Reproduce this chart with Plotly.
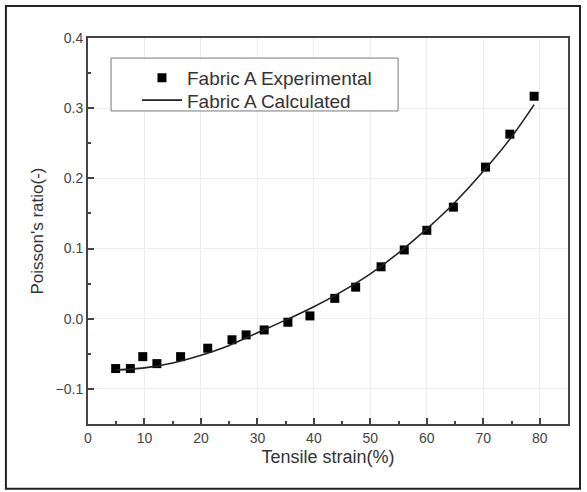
import plotly.graph_objects as go

exp_strain = [4.9, 7.5, 9.7, 12.2, 16.4, 21.2, 25.5, 28.0, 31.2, 35.4, 39.3,
              43.7, 47.4, 51.9, 56.0, 60.0, 64.7, 70.4, 74.7, 79.0]
exp_ratio = [-0.071, -0.071, -0.054, -0.064, -0.054, -0.042, -0.030, -0.023,
             -0.016, -0.005, 0.004, 0.029, 0.045, 0.074, 0.098, 0.126, 0.159,
             0.216, 0.263, 0.317]

# Calculated curve
calc_strain = [5, 10, 15, 20, 25, 30, 35, 40, 45, 50, 55, 60, 65, 70, 75, 79]
calc_ratio = [-0.073, -0.070, -0.063, -0.052, -0.038, -0.020, -0.002, 0.017,
              0.039, 0.064, 0.094, 0.128, 0.166, 0.210, 0.259, 0.305]

x_ticks = [0, 10, 20, 30, 40, 50, 60, 70, 80]
y_ticks = [-0.1, 0.0, 0.1, 0.2, 0.3, 0.4]

FONT = "Liberation Sans, Arial, sans-serif"

fig = go.Figure()
fig.add_trace(go.Scatter(
    x=exp_strain, y=exp_ratio, mode="markers", name="Fabric A Experimental",
    marker=dict(symbol="square", size=9, color="black"), legend="legend",
))
fig.add_trace(go.Scatter(
    x=calc_strain, y=calc_ratio, mode="lines", name="Fabric A Calculated",
    line=dict(color="#222222", width=1.6, shape="spline"), legend="legend2",
))

axis_common = dict(
    showline=True, linecolor="#444444", linewidth=2, mirror=True,
    ticks="inside", ticklen=6, tickwidth=1.5, tickcolor="#444444",
    showgrid=True, gridcolor="#eeeeee", gridwidth=1, zeroline=False,
    tickfont=dict(family=FONT, size=14, color="#444444"),
)

fig.update_xaxes(
    range=[0, 85], tickvals=x_ticks,
    minor=dict(ticks="inside", ticklen=3, dtick=5, tick0=0, tickcolor="#444444", showgrid=False),
    title=dict(text="Tensile strain(%)", font=dict(family=FONT, size=18, color="#333333"), standoff=6),
    **axis_common,
)
fig.update_yaxes(
    range=[-0.15, 0.4], tickvals=y_ticks, tickformat=".1f",
    minor=dict(ticks="inside", ticklen=3, dtick=0.05, tick0=0, tickcolor="#444444", showgrid=False),
    title=dict(text="Poisson's ratio(-)", font=dict(family=FONT, size=17, color="#333333"), standoff=8),
    **axis_common,
)

legend_common = dict(
    xanchor="left", yanchor="top",
    bgcolor="rgba(0,0,0,0)", borderwidth=0,
    font=dict(family=FONT, size=19, color="#333333"),
    tracegroupgap=0, itemwidth=40,
)

fig.update_layout(
    width=587, height=492,
    margin=dict(l=88, r=19, t=38, b=68),
    paper_bgcolor="white", plot_bgcolor="white",
    showlegend=True,
    legend=dict(x=0.102, y=0.946, **legend_common),
    legend2=dict(x=0.102, y=0.888, **legend_common),
    shapes=[
        dict(
            type="rect", xref="paper", yref="paper",
            x0=-0.171, x1=1.025, y0=-0.168, y1=1.083,
            line=dict(color="#222222", width=2), fillcolor="rgba(0,0,0,0)",
            layer="below",
        ),
        dict(
            type="rect", xref="paper", yref="paper",
            x0=0.048, x1=0.646, y0=0.811, y1=0.948,
            line=dict(color="#777777", width=1), fillcolor="white",
            layer="above",
        ),
    ],
)

fig.write_html("out.html")
